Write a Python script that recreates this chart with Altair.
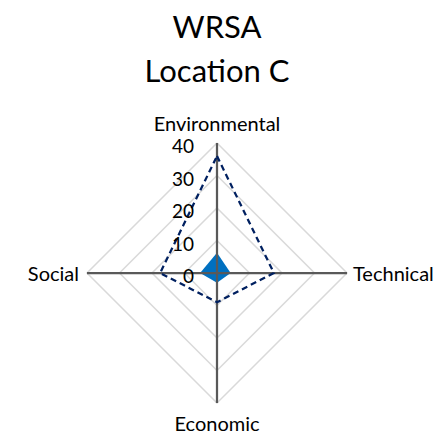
import altair as alt
import numpy as np
import pandas as pd

# ---- data ----
categories = ["Environmental", "Technical", "Economic", "Social"]
series_dashed = [36, 17.5, 9, 17.5]
series_filled = [6.2, 4.2, 3, 5.2]
ring_values = [10, 20, 30, 40]
tick_labels = ["0", "10", "20", "30", "40"]
tick_values = [0, 10, 20, 30, 40]
title_lines = ["WRSA", "Location C"]

FONT = "Lato"
angles = [90, 0, -90, 180]  # degrees for each category axis
rmax = 40


def polar(v, a):
    r = np.deg2rad(a)
    return v * np.cos(r), v * np.sin(r)


# grid rings
ring_rows = []
for rv in ring_values:
    for i, a in enumerate(angles + [angles[0]]):
        x, y = polar(rv, a)
        ring_rows.append({"ring": rv, "order": i, "x": round(x, 6), "y": round(y, 6)})
rings_df = pd.DataFrame(ring_rows)

# axis spokes
spoke_rows = []
for c, a in zip(categories, angles):
    x, y = polar(rmax, a)
    spoke_rows.append({"cat": c, "x": 0, "y": 0, "x2": round(x, 6), "y2": round(y, 6)})
spokes_df = pd.DataFrame(spoke_rows)

# dashed series polygon
dash_rows = []
for i, (c, v, a) in enumerate(zip(categories + [categories[0]], series_dashed + [series_dashed[0]], angles + [angles[0]])):
    x, y = polar(v, a)
    dash_rows.append({"cat": c, "order": i, "x": round(x, 6), "y": round(y, 6)})
dash_df = pd.DataFrame(dash_rows)

# filled series (convex diamond as horizontal area)
top, right, bottom, left = series_filled
fill_df = pd.DataFrame({
    "y": [-bottom, 0, top],
    "xl": [0, -left, 0],
    "xr": [0, right, 0],
})

ticks_df = pd.DataFrame({"v": tick_values, "label": tick_labels, "x": [0] * len(tick_values)})

label_df = pd.DataFrame([
    {"cat": c, "x": round(polar(rmax, a)[0], 6), "y": round(polar(rmax, a)[1], 6)}
    for c, a in zip(categories, angles)
])

xs = alt.Scale(domain=[-rmax, rmax], nice=False, zero=False)
ys = alt.Scale(domain=[-rmax, rmax], nice=False, zero=False)

grid = alt.Chart(rings_df).mark_line(color="#d9d9d9", strokeWidth=1.5).encode(
    x=alt.X("x:Q", scale=xs, axis=None),
    y=alt.Y("y:Q", scale=ys, axis=None),
    detail="ring:N",
    order="order:Q",
)

filled = alt.Chart(fill_df).mark_area(color="#0070C0", orient="horizontal", opacity=1).encode(
    y=alt.Y("y:Q", scale=ys, axis=None),
    x=alt.X("xl:Q", scale=xs, axis=None),
    x2="xr:Q",
)

spokes = alt.Chart(spokes_df).mark_rule(color="#595959", strokeWidth=2.25).encode(
    x=alt.X("x:Q", scale=xs, axis=None),
    y=alt.Y("y:Q", scale=ys, axis=None),
    x2="x2:Q",
    y2="y2:Q",
)

dashed = alt.Chart(dash_df).mark_line(color="#002060", strokeWidth=2.25, strokeDash=[6, 4]).encode(
    x=alt.X("x:Q", scale=xs, axis=None),
    y=alt.Y("y:Q", scale=ys, axis=None),
    order="order:Q",
)

ticks = alt.Chart(ticks_df).mark_text(font=FONT, fontSize=19, align="right", baseline="alphabetic", dx=-23, dy=10, color="#000000").encode(
    x=alt.X("x:Q", scale=xs, axis=None),
    y=alt.Y("v:Q", scale=ys, axis=None),
    text="label:N",
)


def cat_label(cat, **kw):
    return alt.Chart(label_df[label_df["cat"] == cat]).mark_text(
        font=FONT, fontSize=20, color="#000000", baseline="alphabetic", **kw
    ).encode(
        x=alt.X("x:Q", scale=xs, axis=None),
        y=alt.Y("y:Q", scale=ys, axis=None),
        text="cat:N",
    )


lab_env = cat_label("Environmental", align="center", dy=-12)
lab_tech = cat_label("Technical", align="left", dx=6, dy=8)
lab_econ = cat_label("Economic", align="center", dy=28)
lab_soc = cat_label("Social", align="right", dx=-8, dy=8)

one = pd.DataFrame({"a": [0]})
t1 = alt.Chart(one).mark_text(font=FONT, fontSize=31, align="center", baseline="alphabetic", color="#000000").encode(
    x=alt.value(130), y=alt.value(-105), text=alt.value(title_lines[0])
)
t2 = alt.Chart(one).mark_text(font=FONT, fontSize=31, align="center", baseline="alphabetic", color="#000000").encode(
    x=alt.value(130), y=alt.value(-61), text=alt.value(title_lines[1])
)

chart = alt.layer(grid, filled, spokes, dashed, ticks, lab_env, lab_tech, lab_econ, lab_soc, t1, t2).properties(
    width=260,
    height=260,
    autosize=alt.AutoSizeParams(type="none"),
    padding={"left": 79, "top": 135, "right": 87, "bottom": 32},
    background="white",
).configure_view(stroke=None)

chart.save("out.html", embed_options={"renderer": "svg", "actions": False})
